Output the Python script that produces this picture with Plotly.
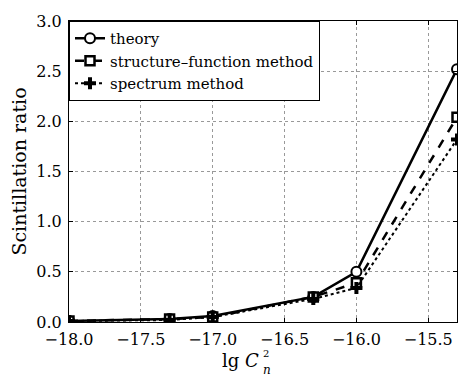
import plotly.graph_objects as go

lg_cn2 = [-18.0, -17.3, -17.0, -16.3, -16.0, -15.3]
theory = [0.01, 0.03, 0.06, 0.25, 0.50, 2.52]
structure_function = [0.01, 0.03, 0.05, 0.25, 0.39, 2.04]
spectrum = [0.01, 0.02, 0.05, 0.23, 0.34, 1.82]

names = ["theory", "structure–function method", "spectrum method"]
xticks = [-18.0, -17.5, -17.0, -16.5, -16.0, -15.5]
yticks = [0.0, 0.5, 1.0, 1.5, 2.0, 2.5, 3.0]

FONT = "'DejaVu Serif', 'Liberation Serif', serif"

fig = go.Figure()
fig.add_trace(go.Scatter(
    x=lg_cn2, y=theory, name=names[0], mode="lines+markers",
    line=dict(color="black", width=2.5, dash="solid"),
    marker=dict(symbol="circle", size=10, color="white", line=dict(color="black", width=2))))
fig.add_trace(go.Scatter(
    x=lg_cn2, y=structure_function, name=names[1], mode="lines+markers",
    line=dict(color="black", width=2.5, dash="dash"),
    marker=dict(symbol="square", size=9, color="white", line=dict(color="black", width=2.5))))
fig.add_trace(go.Scatter(
    x=lg_cn2, y=spectrum, name=names[2], mode="lines+markers",
    line=dict(color="black", width=2, dash="dot"),
    marker=dict(symbol="cross", size=10, color="black", line=dict(width=0))))

axis_common = dict(
    showline=True, linecolor="black", linewidth=1, mirror="ticks",
    ticks="inside", ticklen=4, tickcolor="black",
    showgrid=True, gridcolor="#999999", griddash="dot", gridwidth=1,
    zeroline=False, tickfont=dict(family=FONT, size=16, color="black"),
)

fig.update_xaxes(range=[-18.0, -15.3], tickvals=xticks,
                 ticktext=[f"−{abs(v):.1f}" for v in xticks],
                 ticklabelstandoff=3, **axis_common)
fig.update_yaxes(range=[0.0, 3.0], tickvals=yticks,
                 ticktext=[f"{v:.1f}" for v in yticks],
                 ticklabelstandoff=3,
                 title=dict(text="Scintillation ratio", font=dict(family=FONT, size=19, color="black"), standoff=4),
                 **axis_common)

fig.add_annotation(xref="paper", yref="paper", x=0.496, y=-0.085, xanchor="right", yanchor="top",
                   text="lg <i>C</i>", showarrow=False,
                   font=dict(family=FONT, size=18, color="black"))
fig.add_annotation(xref="paper", yref="paper", x=0.494, y=-0.128, xanchor="left", yanchor="top",
                   text="<i>n</i>", showarrow=False,
                   font=dict(family=FONT, size=12, color="black"))
fig.add_annotation(xref="paper", yref="paper", x=0.496, y=-0.08, xanchor="left", yanchor="top",
                   text="2", showarrow=False,
                   font=dict(family=FONT, size=10, color="black"))

fig.update_layout(
    width=470, height=380,
    font=dict(family=FONT, color="black"),
    margin=dict(l=69, r=12, t=15, b=58),
    paper_bgcolor="white", plot_bgcolor="white",
    showlegend=True,
    legend=dict(x=0, y=1, xanchor="left", yanchor="top",
                bgcolor="white", bordercolor="black", borderwidth=1,
                font=dict(family=FONT, size=15, color="black"),
                tracegroupgap=0, itemwidth=30),
)

fig.write_html("out.html")
